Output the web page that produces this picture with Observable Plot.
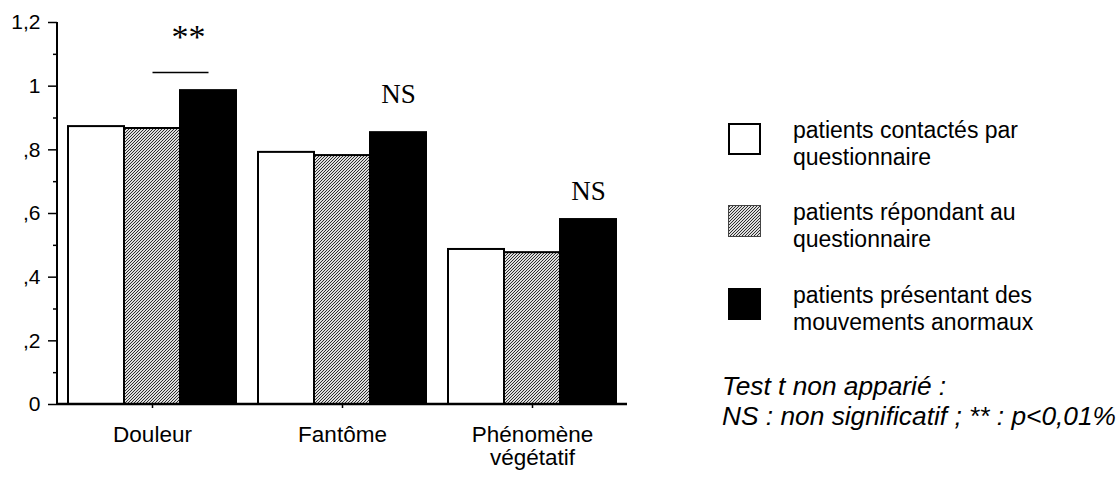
<!DOCTYPE html>
<html>
<head>
<meta charset="utf-8">
<script src="https://cdn.jsdelivr.net/npm/d3@7"></script>
<script src="https://cdn.jsdelivr.net/npm/@observablehq/plot@0.6"></script>
<style>
  html, body { margin: 0; padding: 0; background: #fff; }
  #wrap { position: relative; width: 1120px; height: 477px; overflow: hidden; font-family: "Liberation Sans", Arial, sans-serif; color: #000; }
  #chart { position: absolute; left: 0; top: 0; }
  .legend { position: absolute; left: 728px; }
  .entry { position: absolute; left: 0; width: 390px; height: 54px; }
  .sw { position: absolute; left: 0; top: 6px; width: 33px; height: 32px; }
  .lab { position: absolute; left: 65px; top: 0; font-size: 23px; line-height: 27px; white-space: nowrap; }
  .note { position: absolute; left: 722px; top: 371px; font-size: 26.3px; line-height: 30px; font-style: italic; white-space: nowrap; }
</style>
</head>
<body>
<div id="wrap">
  <div id="chart"></div>
  <div class="legend" id="legend"></div>
  <div class="note" id="note"></div>
</div>
<script>
// ---- data ----
const categories = ["Douleur", "Fantôme", "Phénomène\nvégétatif"];
const seriesKeys = ["contactes", "repondants", "mouvements"];
const seriesLabels = [
  "patients contactés par\nquestionnaire",
  "patients répondant au\nquestionnaire",
  "patients présentant des\nmouvements anormaux"
];
const contactes  = [0.873, 0.792, 0.487];
const repondants = [0.867, 0.782, 0.477];
const mouvements = [0.986, 0.854, 0.581];
const yTicks = [0, 0.2, 0.4, 0.6, 0.8, 1.0, 1.2];
const yTickLabels = ["0", ",2", ",4", ",6", ",8", "1", "1,2"];
const yMinorTicks = [0.1, 0.3, 0.5, 0.7, 0.9, 1.1];
const annotCats = ["Douleur", "Fantôme", "Phénomène\nvégétatif"];
const annotTexts = ["**", "NS", "NS"];
const annotY = [1.12, 0.946, 0.641];
const bracketCat = ["Douleur"];
const bracketFrom = ["repondants"];
const bracketTo = ["mouvements"];
const bracketY = [1.043];
const noteLines = ["Test t non apparié :", "NS : non significatif ; ** : p<0,01%"];

// ---- build tables ----
const seriesValues = [contactes, repondants, mouvements];
const rows = [];
categories.forEach((c, i) => seriesKeys.forEach((s, j) => rows.push({cat: c, series: s, value: seriesValues[j][i]})));
const annots = annotCats.map((c, i) => ({cat: c, series: "mouvements", label: annotTexts[i], y: annotY[i]}));
const brackets = bracketCat.map((c, i) => ({cat: c, from: bracketFrom[i], to: bracketTo[i], y: bracketY[i]}));

const fills = ["#ffffff", "url(#hatch)", "#000000"];

const W = 640, H = 477, ML = 57, MR = 13, MT = 22, MB = 73;
const serif = "Liberation Serif, Times New Roman, serif";

const plot = Plot.plot({
  width: W, height: H,
  marginLeft: ML, marginRight: MR, marginTop: MT, marginBottom: MB,
  style: {fontFamily: "Liberation Sans, Arial, sans-serif", color: "#000", background: "#fff"},
  fx: {domain: categories, padding: 0, label: null},
  x: {domain: seriesKeys, paddingInner: 0, paddingOuter: 0.186, axis: null},
  y: {domain: [0, 1.2], axis: null},
  color: {type: "ordinal", domain: seriesKeys, range: fills},
  marks: [
    Plot.barY(rows, {fx: "cat", x: "series", y: "value", fill: "series", stroke: "#000", strokeWidth: 2}),
    Plot.axisY({ticks: yTicks, tickFormat: (d) => yTickLabels[yTicks.indexOf(d)], tickSize: 9, tickPadding: 8, fontSize: 21, strokeWidth: 1.5, label: null}),
    Plot.axisY({ticks: yMinorTicks, tickFormat: () => "", tickSize: 4, strokeWidth: 1.5, label: null}),
    Plot.axisFx({anchor: "bottom", tickSize: 4, tickPadding: 17, fontSize: 22.5, lineHeight: 1.03, label: null, strokeWidth: 1.5}),
    Plot.link(brackets, {fx: "cat", x1: "from", x2: "to", y1: "y", y2: "y", stroke: "#000", strokeWidth: 1.5}),
    Plot.text(annots.filter(d => d.label === "NS"), {fx: "cat", x: "series", y: "y", text: "label", fontFamily: serif, fontSize: 27, lineAnchor: "bottom", fill: "#000"}),
    Plot.text(annots.filter(d => d.label !== "NS"), {fx: "cat", x: "series", y: "y", text: "label", dx: -20, fontFamily: serif, fontSize: 34, letterSpacing: "2px", lineAnchor: "bottom", fill: "#000"})
  ]
});

// fine hatch pattern for the grey series
const svg = d3.select(plot);
const defs = svg.insert("defs", ":first-child");
const pat = defs.append("pattern").attr("id", "hatch").attr("patternUnits", "userSpaceOnUse")
  .attr("width", 3).attr("height", 3);
pat.append("rect").attr("width", 3).attr("height", 3).attr("fill", "#dedede");
[0, 1, 2].forEach(k => pat.append("rect").attr("x", k).attr("y", 2 - k).attr("width", 1).attr("height", 1)
  .attr("fill", "#2e2e2e").attr("shape-rendering", "crispEdges"));

// axis lines from the y scale
const ys = plot.scale("y");
const y0 = ys.apply(0), yTop = ys.apply(1.2);
svg.append("line").attr("x1", ML).attr("x2", ML).attr("y1", yTop).attr("y2", y0 + 1)
  .attr("stroke", "#000").attr("stroke-width", 2);
svg.append("line").attr("x1", ML).attr("x2", W - MR).attr("y1", y0).attr("y2", y0)
  .attr("stroke", "#000").attr("stroke-width", 2.5);

document.getElementById("chart").appendChild(plot);

// legend
const legend = document.getElementById("legend");
const swFill = ["#ffffff", "url(#hatch)", "#000000"];
const swStroke = ["#000", "#444", "#000"];
const swWidth = [2, 1, 1];
const entryTops = [117, 199, 282];
seriesLabels.forEach((lab, i) => {
  const e = document.createElement("div");
  e.className = "entry";
  e.style.top = entryTops[i] + "px";
  const sw = d3.create("svg").attr("class", "sw").attr("width", 33).attr("height", 32);
  sw.append("rect").attr("x", swWidth[i] / 2).attr("y", swWidth[i] / 2)
    .attr("width", 33 - swWidth[i]).attr("height", 32 - swWidth[i])
    .attr("fill", swFill[i]).attr("stroke", swStroke[i]).attr("stroke-width", swWidth[i]);
  const t = document.createElement("div");
  t.className = "lab";
  t.innerHTML = lab.split("\n").join("<br>");
  e.appendChild(sw.node()); e.appendChild(t);
  legend.appendChild(e);
});
document.getElementById("note").innerHTML = noteLines.join("<br>");
</script>
</body>
</html>
